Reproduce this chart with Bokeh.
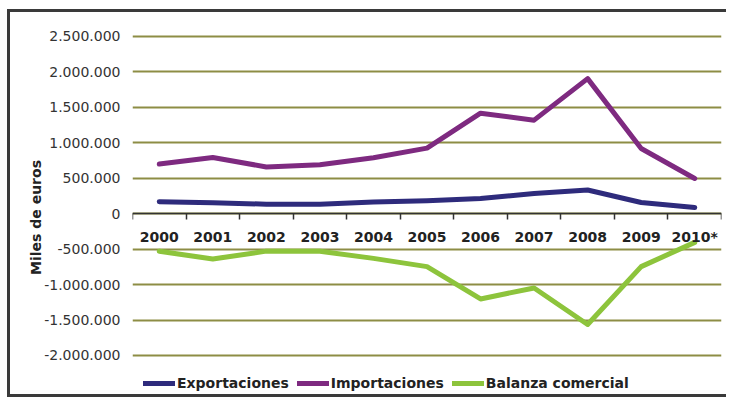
from bokeh.plotting import figure
from bokeh.models import Range1d, FixedTicker, Legend, LegendItem
from bokeh.embed import file_html
from bokeh.resources import INLINE

# ---- data ----
years = ["2000", "2001", "2002", "2003", "2004", "2005", "2006", "2007", "2008", "2009", "2010*"]
exportaciones = [170000, 155000, 135000, 135000, 165000, 183000, 215000, 286000, 334000, 159000, 89000]
importaciones = [700000, 793000, 660000, 690000, 790000, 925000, 1418000, 1320000, 1906000, 920000, 497000]
balanza = [-530000, -638000, -528000, -530000, -630000, -746000, -1202000, -1047000, -1563000, -746000, -404000]
y_ticks = [-2000000, -1500000, -1000000, -500000, 0, 500000, 1000000, 1500000, 2000000, 2500000]
y_tick_labels = ["-2.000.000", "-1.500.000", "-1.000.000", "-500.000", "0",
                 "500.000", "1.000.000", "1.500.000", "2.000.000", "2.500.000"]
series_names = ["Exportaciones", "Importaciones", "Balanza comercial"]
series_colors = ["#2e2b7c", "#7e2a80", "#8dc43c"]

FONT = "DejaVu Sans"
x = list(range(len(years)))

p = figure(width=719, height=388, output_backend="svg", toolbar_location=None,
           x_range=Range1d(-0.5, len(years) - 0.5),
           y_range=Range1d(-2634800, 2528200),
           min_border_left=122, min_border_right=8, min_border_top=22, min_border_bottom=0)
p.styles = {"border-left": "3px solid #3a3a3a", "border-top": "3px solid #3a3a3a",
            "border-bottom": "3px solid #3a3a3a", "margin-left": "7px", "margin-top": "9px"}
p.outline_line_color = None
p.background_fill_color = "white"

# grid
p.xgrid.grid_line_color = None
p.ygrid.ticker = FixedTicker(ticks=y_ticks)
p.ygrid.grid_line_color = "#8d8d45"
p.ygrid.grid_line_width = 2

# y axis
ya = p.yaxis[0]
ya.ticker = FixedTicker(ticks=y_ticks)
ya.major_label_overrides = {t: l for t, l in zip(y_ticks, y_tick_labels)}
ya.axis_line_color = None
ya.major_tick_line_color = None
ya.minor_tick_line_color = None
ya.major_tick_out = 0
ya.major_label_standoff = 12
ya.major_label_text_font = FONT
ya.major_label_text_font_size = "14px"
ya.major_label_text_color = "#333333"
ya.axis_label = "Miles de euros"
ya.axis_label_text_font = FONT
ya.axis_label_text_font_style = "bold"
ya.axis_label_text_font_size = "14px"
ya.axis_label_text_color = "#222222"
ya.axis_label_standoff = -3

# x axis at y = 0
xa = p.xaxis[0]
xa.fixed_location = 0
xa.ticker = FixedTicker(ticks=x, minor_ticks=[i - 0.5 for i in range(len(years) + 1)])
xa.major_label_overrides = {i: y for i, y in zip(x, years)}
xa.major_tick_line_color = None
xa.major_tick_out = 0
xa.major_tick_in = 0
xa.minor_tick_out = 6
xa.minor_tick_in = 0
xa.minor_tick_line_color = "#333333"
xa.minor_tick_line_width = 1.5
xa.axis_line_color = "#333333"
xa.axis_line_width = 1.5
xa.major_label_standoff = 9
xa.major_label_text_font = FONT
xa.major_label_text_font_style = "bold"
xa.major_label_text_font_size = "14px"
xa.major_label_text_color = "#222222"

items = []
for name, vals, col in zip(series_names, [exportaciones, importaciones, balanza], series_colors):
    r = p.line(x, vals, line_color=col, line_width=5, line_join="round", line_cap="round")
    items.append(LegendItem(label=name, renderers=[r]))

legend = Legend(items=items, orientation="horizontal", location=(11, 9),
                glyph_width=32, glyph_height=14, label_standoff=2, spacing=8,
                padding=0, margin=0, border_line_color=None, background_fill_alpha=0,
                label_text_font=FONT, label_text_font_style="bold",
                label_text_font_size="14px", label_text_color="#222222")
p.add_layout(legend, "center")

open("out.html", "w").write(file_html(p, INLINE))
